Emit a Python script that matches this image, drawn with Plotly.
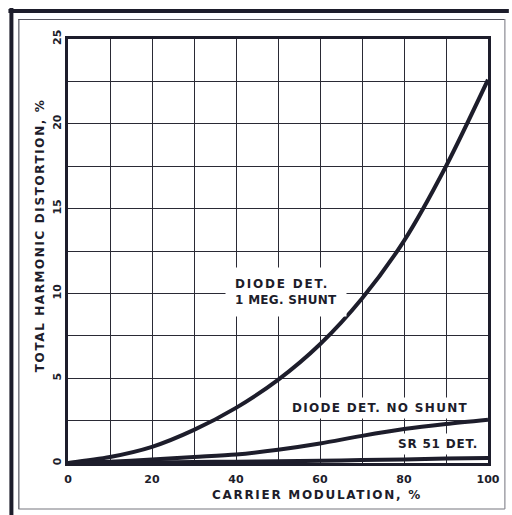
import plotly.graph_objects as go

# Carrier modulation (%) sample points
modulation = [0, 10, 20, 30, 40, 50, 60, 70, 80, 90, 100]

# Total harmonic distortion (%) for each detector
diode_1meg_shunt = [0, 0.35, 0.95, 1.95, 3.25, 4.9, 7.0, 9.7, 13.1, 17.5, 22.6]
diode_no_shunt = [0, 0.08, 0.2, 0.35, 0.5, 0.78, 1.15, 1.6, 2.0, 2.3, 2.55]
sr51_det = [0, 0.02, 0.04, 0.06, 0.08, 0.1, 0.13, 0.17, 0.21, 0.26, 0.3]

x_ticks = [0, 10, 20, 30, 40, 50, 60, 70, 80, 90, 100]
x_tick_text = ["0", "", "20", "", "40", "", "60", "", "80", "", "100"]
y_ticks = [0, 2.5, 5, 7.5, 10, 12.5, 15, 17.5, 20, 22.5, 25]
y_tick_text = ["0", "", "5", "", "10", "", "15", "", "20", "", "25"]

INK = "#1d1d2b"
FONT = "DejaVu Sans"

W, H = 512, 515
L, R, T, B = 68, 21, 39, 52
PW, PH = W - L - R, H - T - B


def fx(px):
    return (px - L) / PW


def fy(py):
    return (H - B - py) / PH


def spaced(text, sp):
    return f'<span style="letter-spacing:{sp}px">{text}</span>'


fig = go.Figure()
for ys in (diode_1meg_shunt, diode_no_shunt, sr51_det):
    fig.add_trace(go.Scatter(
        x=modulation, y=ys, mode="lines",
        line=dict(color=INK, width=4, shape="spline", smoothing=0.8),
        showlegend=False, hoverinfo="skip",
    ))

axis_common = dict(
    showgrid=True, gridcolor="#2a2a35", gridwidth=1.3,
    showline=True, linecolor=INK, linewidth=2.6, mirror=True,
    zeroline=False, ticks="",
    tickfont=dict(family=FONT, size=11, color=INK, weight="bold"),
)

fig.update_xaxes(range=[0, 100], tickvals=x_ticks, ticktext=x_tick_text,
                 ticklabelstandoff=4, **axis_common)
fig.update_yaxes(range=[0, 25], tickvals=y_ticks, ticktext=y_tick_text,
                 tickangle=-90, ticklabelstandoff=0, **axis_common)

label_font = dict(family=FONT, size=12, color=INK, weight="bold")
annotations = [
    dict(x=fx(319), y=fy(495), xref="paper", yref="paper",
         xanchor="center", yanchor="middle",
         text=spaced("CARRIER MODULATION, %", 1.7), showarrow=False,
         font=label_font),
    dict(x=fx(40), y=fy(235), xref="paper", yref="paper",
         xanchor="center", yanchor="middle",
         text=spaced("TOTAL HARMONIC DISTORTION, %", 1.6), textangle=-90,
         showarrow=False, font=label_font),
    dict(x=37.4, y=10.1, xref="x", yref="y", xanchor="left", align="left",
         text=spaced("DIODE DET.", 1.8) + "<br>" + spaced("1 MEG. SHUNT", 0.3),
         showarrow=False, font=label_font, bgcolor="white", borderpad=9),
    dict(x=74.2, y=3.25, xref="x", yref="y",
         text=spaced("DIODE DET. NO SHUNT", 1.3), showarrow=False,
         font=label_font, bgcolor="white", borderpad=3),
    dict(x=88.2, y=1.12, xref="x", yref="y",
         text=spaced("SR 51 DET.", 0.8), showarrow=False,
         font=label_font, bgcolor="white", borderpad=3),
]

# Double page frame around the chart
frame = [
    dict(x0=fx(8), x1=fx(512), y0=fy(11), y1=fy(11), w=4, c=INK),
    dict(x0=fx(11), x1=fx(11), y0=fy(8), y1=fy(515), w=4, c=INK),
    dict(x0=fx(18), x1=fx(508), y0=fy(19.5), y1=fy(19.5), w=1.2, c="#55555f"),
    dict(x0=fx(18.5), x1=fx(18.5), y0=fy(19), y1=fy(509), w=1.2, c="#55555f"),
    dict(x0=fx(18), x1=fx(508), y0=fy(509), y1=fy(509), w=1.2, c="#77777f"),
    dict(x0=fx(508), x1=fx(508), y0=fy(19), y1=fy(509), w=1.2, c="#8a8a92"),
]
shapes = [
    dict(type="line", xref="paper", yref="paper",
         x0=f["x0"], x1=f["x1"], y0=f["y0"], y1=f["y1"],
         line=dict(color=f["c"], width=f["w"]))
    for f in frame
]

fig.update_layout(
    width=W, height=H,
    margin=dict(l=L, r=R, t=T, b=B),
    paper_bgcolor="white", plot_bgcolor="white",
    annotations=annotations, shapes=shapes,
    font=dict(family=FONT, color=INK),
)

fig.write_html("out.html")
